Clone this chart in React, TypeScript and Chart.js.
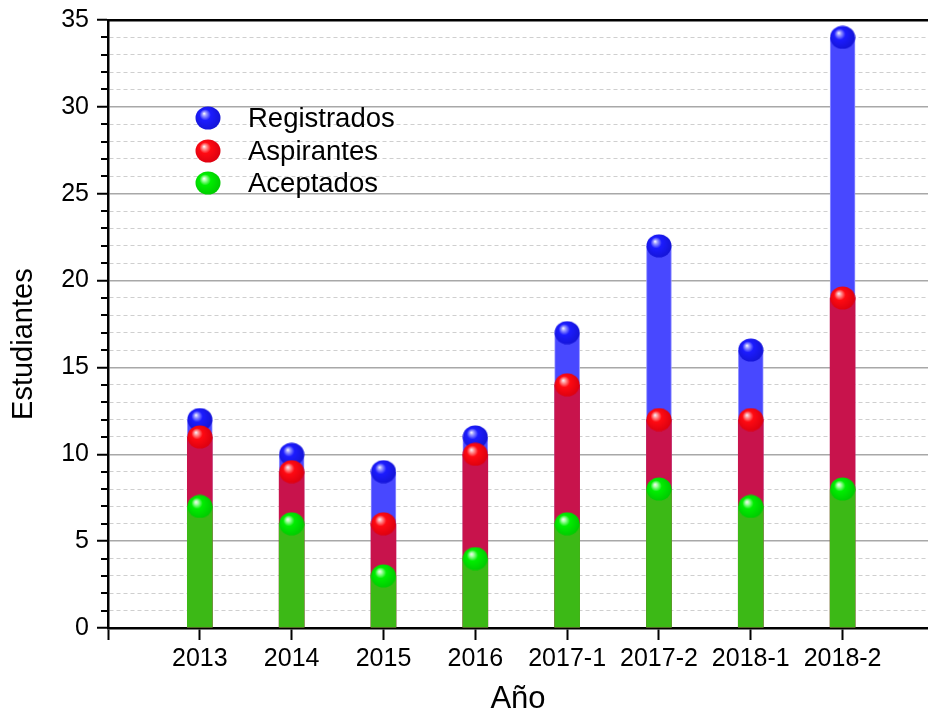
import React, { useEffect, useRef } from 'react';
import { Chart, registerables } from 'chart.js';

Chart.register(...registerables);

const categories = ['2013', '2014', '2015', '2016', '2017-1', '2017-2', '2018-1', '2018-2'];
const registrados = [12, 10, 9, 11, 17, 22, 16, 34];
const aspirantes = [11, 9, 6, 10, 14, 12, 12, 19];
const aceptados = [7, 6, 3, 4, 6, 8, 7, 8];
const seriesNames = ['Registrados', 'Aspirantes', 'Aceptados'];
const yMin = 0;
const yMax = 35;
const yMajorStep = 5;

const FONT = '"Liberation Sans", Arial, sans-serif';

function makeSphere(base: string, light: string, dark: string): HTMLCanvasElement {
  const c = document.createElement('canvas');
  c.width = 26;
  c.height = 24;
  const g = c.getContext('2d')!;
  const grad = g.createRadialGradient(9, 7.5, 0, 12, 11, 14);
  grad.addColorStop(0, 'rgba(255,255,255,0.95)');
  grad.addColorStop(0.14, light);
  grad.addColorStop(0.4, base);
  grad.addColorStop(1, dark);
  g.fillStyle = grad;
  g.beginPath();
  g.ellipse(13, 12, 12.5, 11.5, 0, 0, Math.PI * 2);
  g.fill();
  return c;
}

const pts = (arr: number[]) => arr.map((v, i) => ({ x: i + 1, y: v }));

export default function App() {
  const ref = useRef<HTMLCanvasElement>(null);

  useEffect(() => {
    if (!ref.current) return;
    const blueS = makeSphere('#1c1cff', '#a0a0ff', '#1414d4');
    const redS = makeSphere('#ff0a12', '#ffa0a0', '#da0010');
    const greenS = makeSphere('#00ee00', '#a8ffa8', '#00c800');
    const spheres = [blueS, redS, greenS];

    const decor = {
      id: 'decor',
      afterDraw(chart: any) {
        const ctx = chart.ctx;
        const ys = chart.scales.y;
        const { left, top } = chart.chartArea;
        ctx.save();
        ctx.strokeStyle = '#000';
        ctx.lineWidth = 2;
        for (let v = yMin; v <= yMax; v++) {
          if (v % yMajorStep === 0) continue;
          const py = Math.round(ys.getPixelForValue(v));
          ctx.beginPath();
          ctx.moveTo(left - 7, py);
          ctx.lineTo(left, py);
          ctx.stroke();
        }
        // legend
        const rows = [top + 98, top + 131, top + 163];
        ctx.font = `27.5px ${FONT}`;
        ctx.fillStyle = '#000';
        ctx.textBaseline = 'middle';
        ctx.textAlign = 'left';
        seriesNames.forEach((name, i) => {
          const s = spheres[i];
          ctx.drawImage(s, left + 100 - 13, rows[i] - 12);
          ctx.fillText(name, left + 140, rows[i] + 1);
        });
        ctx.restore();
      },
    };

    const chart = new Chart(ref.current, {
      type: 'bar',
      data: {
        datasets: [
          {
            type: 'bar',
            label: seriesNames[0],
            data: pts(registrados),
            backgroundColor: '#4848ff',
            borderColor: 'rgba(150,150,255,1)',
            borderWidth: { left: 1, right: 1, top: 0, bottom: 0 },
            barThickness: 25,
            grouped: false,
            order: 6,
          } as any,
          {
            type: 'bar',
            label: seriesNames[1],
            data: pts(aspirantes),
            backgroundColor: '#c8134c',
            borderWidth: 0,
            barThickness: 25,
            grouped: false,
            order: 5,
          } as any,
          {
            type: 'bar',
            label: seriesNames[2],
            data: pts(aceptados),
            backgroundColor: '#3cb916',
            borderWidth: 0,
            barThickness: 25,
            grouped: false,
            order: 4,
          } as any,
          {
            type: 'scatter',
            label: seriesNames[0] + ' ',
            data: pts(registrados),
            pointStyle: blueS,
            pointRadius: 12,
            order: 3,
          } as any,
          {
            type: 'scatter',
            label: seriesNames[1] + ' ',
            data: pts(aspirantes),
            pointStyle: redS,
            pointRadius: 12,
            order: 2,
          } as any,
          {
            type: 'scatter',
            label: seriesNames[2] + ' ',
            data: pts(aceptados),
            pointStyle: greenS,
            pointRadius: 12,
            order: 1,
          } as any,
        ],
      },
      options: {
        animation: false,
        responsive: false,
        devicePixelRatio: 1,
        layout: { autoPadding: false, padding: { top: 20, left: 0, right: 0, bottom: 0 } },
        plugins: {
          legend: { display: false },
          tooltip: { enabled: false },
        },
        events: [],
        scales: {
          x: {
            type: 'linear',
            position: 'bottom',
            min: 0,
            max: 8.93,
            offset: false,
            grid: {
              offset: false,
              drawOnChartArea: false,
              drawTicks: true,
              tickLength: 12,
              tickWidth: 2,
              tickColor: '#000',
            },
            border: { display: true, color: '#000', width: 2.5 },
            afterBuildTicks: (scale: any) => {
              scale.ticks = [0, ...categories.map((_, i) => i + 1)].map((v) => ({ value: v }));
            },
            afterFit: (scale: any) => {
              scale.height = 87;
              scale.paddingLeft = 0;
              scale.paddingRight = 0;
            },
            ticks: {
              autoSkip: false,
              maxRotation: 0,
              padding: 4,
              color: '#000',
              font: { family: FONT, size: 25 },
              callback: (v: any) => categories[Number(v) - 1] ?? '',
            },
            title: {
              display: true,
              text: 'Año',
              color: '#000',
              font: { family: FONT, size: 31 },
              padding: { top: 0, bottom: -3 },
            },
          } as any,
          x2: {
            type: 'linear',
            position: 'top',
            min: 0,
            max: 8.93,
            grid: { display: false },
            ticks: { display: false },
            border: { display: true, color: '#000', width: 2.5 },
            afterFit: (scale: any) => {
              scale.height = 0;
              scale.paddingLeft = 0;
              scale.paddingRight = 0;
            },
          } as any,
          y: {
            type: 'linear',
            min: yMin,
            max: yMax,
            grid: {
              color: (c: any) => (c.tick && c.tick.value % yMajorStep === 0 ? '#a8a8a8' : '#cfcfcf'),
              lineWidth: (c: any) => (c.tick && c.tick.value % yMajorStep === 0 ? 1.5 : 1),
              tickLength: 11,
              tickWidth: 2,
              tickColor: (c: any) => (c.tick && c.tick.value % yMajorStep === 0 ? '#000' : 'rgba(0,0,0,0)'),
            },
            border: {
              display: true,
              color: '#000',
              width: 2.5,
              dash: (c: any) => (c.tick && c.tick.value % yMajorStep !== 0 ? [4, 3] : []),
            },
            afterFit: (scale: any) => {
              scale.width = 108;
              scale.paddingTop = 0;
              scale.paddingBottom = 0;
            },
            ticks: {
              stepSize: 1,
              autoSkip: false,
              padding: 8,
              color: '#000',
              font: { family: FONT, size: 25 },
              callback: (v: any) => (Number(v) % yMajorStep === 0 ? String(v) : ''),
            },
            title: {
              display: true,
              text: 'Estudiantes     ',
              color: '#000',
              font: { family: FONT, size: 29 },
              padding: { top: 7, bottom: 0 },
            },
          } as any,
        },
      },
      plugins: [decor],
    });
    return () => chart.destroy();
  }, []);

  return (
    <div style={{ position: 'absolute', left: 0, top: 0, width: 928, height: 715, background: '#fff' }}>
      <canvas ref={ref} width={928} height={715} style={{ display: 'block', width: 928, height: 715 }} />
    </div>
  );
}
